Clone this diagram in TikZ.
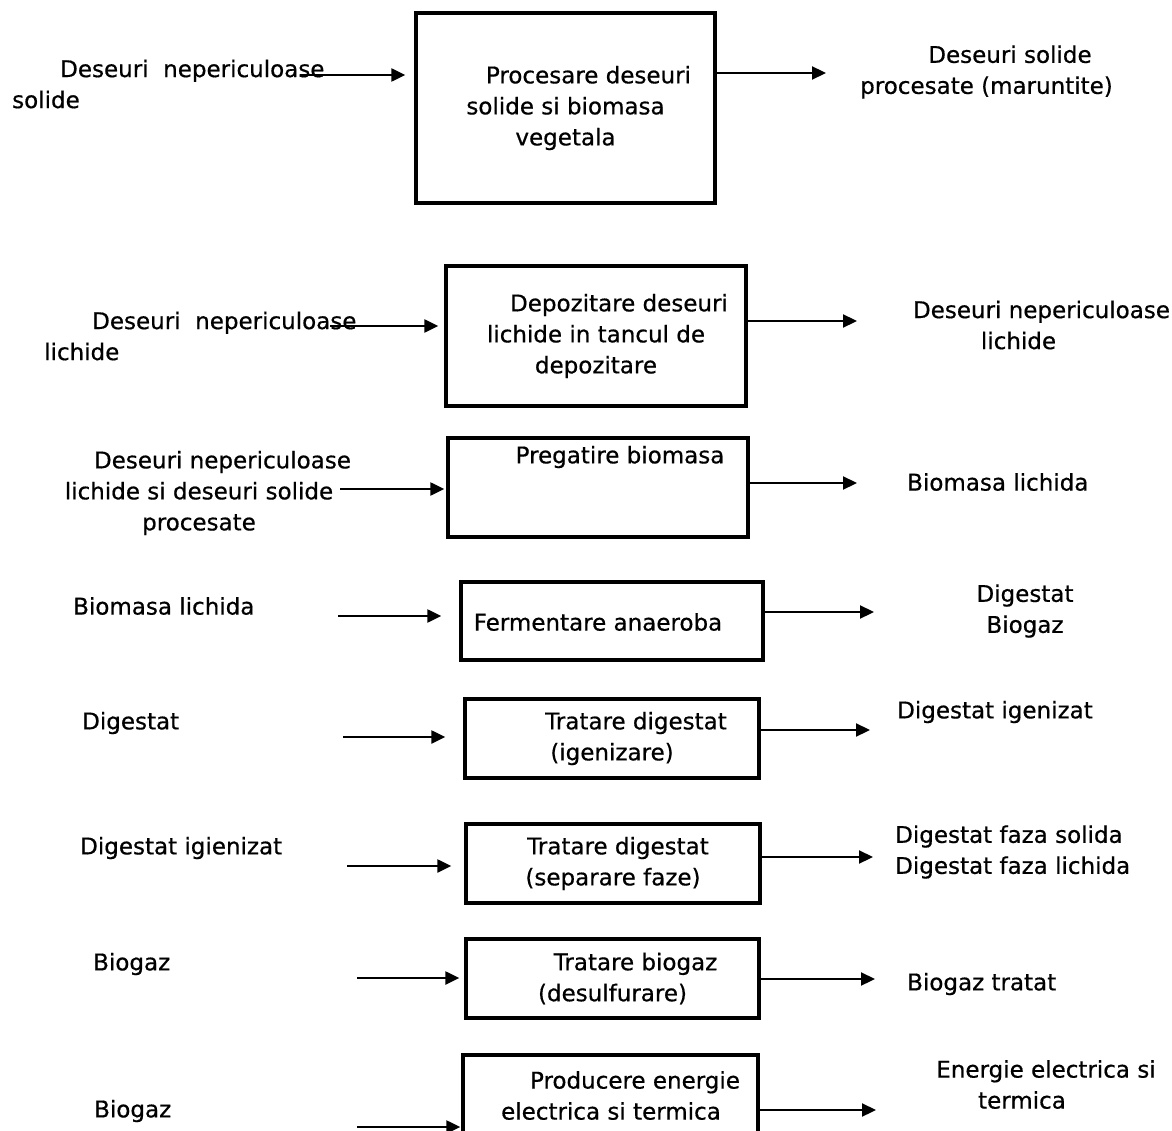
\documentclass[tikz,border=0pt]{standalone}
\usepackage{fontspec}
\setmainfont{DejaVu Sans}[FakeBold=0.6]
\usetikzlibrary{arrows.meta}
\tikzset{
  box/.style={draw, line width=3.3pt, inner sep=0pt},
  lbl/.style={inner sep=0pt, font=\fontsize{23}{31}\selectfont},
  arr/.style={line width=2.2pt, -{Triangle[length=14pt,width=13pt]}},
}
\begin{document}
\begin{tikzpicture}[x=1pt,y=-1pt]
\useasboundingbox (0,0) rectangle (1172,1131);
\clip (0,0) rectangle (1172,1131);
% boxes
\node[box, lbl, minimum width=299pt, minimum height=190pt, align=center] (b1) at (565.5,108) {\hspace*{46pt}Procesare deseuri\\solide si biomasa\\vegetala};
\node[box, lbl, minimum width=300pt, minimum height=140pt, align=center] (b2) at (596,336) {\hspace*{46pt}Depozitare deseuri\\lichide in tancul de\\depozitare};
\node[box, minimum width=300pt, minimum height=99pt] (b3) at (598,487.5) {};
\node[lbl] (t3) at (620,457) {Pregatire biomasa};
\node[box, minimum width=302pt, minimum height=78pt] (b4) at (612,621) {};
\node[lbl] (t4) at (598,622) {Fermentare anaeroba};
\node[box, lbl, minimum width=294pt, minimum height=79pt, align=center] (b5) at (612,738.5) {\hspace*{48pt}Tratare digestat\\(igenizare)};
\node[box, lbl, minimum width=294pt, minimum height=79pt, align=center] (b6) at (613,863.5) {\hspace*{10pt}Tratare digestat\\(separare faze)};
\node[box, lbl, minimum width=293pt, minimum height=79pt, align=center] (b7) at (612.5,978.5) {\hspace*{46pt}Tratare biogaz\\(desulfurare)};
\node[box, minimum width=295pt, minimum height=82pt] (b8) at (610.5,1096) {};
\node[lbl, align=center] (t8) at (611,1095.5) {\hspace*{48pt}Producere energie\\electrica si termica};
% input labels
\node[lbl, anchor=west, align=left] (i1) at (12,84) {\hspace*{48pt}Deseuri\ \ nepericuloase\\solide};
\node[lbl, anchor=west, align=left] (i2) at (44,336) {\hspace*{48pt}Deseuri\ \ nepericuloase\\lichide};
\node[lbl, align=center] (i3) at (199,493) {\hspace*{47pt}Deseuri nepericuloase\\lichide si deseuri solide\\procesate};
\node[lbl, anchor=west] (i4) at (73,606) {Biomasa lichida};
\node[lbl, anchor=west] (i5) at (82,723) {Digestat};
\node[lbl, anchor=west] (i6) at (80,848) {Digestat igienizat};
\node[lbl, anchor=west] (i7) at (93,964) {Biogaz};
\node[lbl, anchor=west] (i8) at (94,1111) {Biogaz};
% output labels
\node[lbl, align=center] (o1) at (986.5,72) {\hspace*{47pt}Deseuri solide\\procesate (maruntite)};
\node[lbl, align=center] (o2) at (1018.5,325) {\hspace*{46pt}Deseuri nepericuloase\\lichide};
\node[lbl, anchor=west] (o3) at (907,482) {Biomasa lichida};
\node[lbl, align=center] (o4) at (1025,611) {Digestat\\Biogaz};
\node[lbl, anchor=west] (o5) at (897,712) {Digestat igenizat};
\node[lbl, anchor=west, align=left] (o6) at (895,852) {Digestat faza solida\\Digestat faza lichida};
\node[lbl, anchor=west] (o7) at (907,984) {Biogaz tratat};
\node[lbl, align=center] (o8) at (1022,1084.5) {\hspace*{48pt}Energie electrica si\\termica};
% arrow coordinates
\coordinate (a1) at (300,75);   \coordinate (e1) at (826,73);
\coordinate (a2) at (330,326);  \coordinate (e2) at (857,321);
\coordinate (a3) at (340,489);  \coordinate (e3) at (857,483);
\coordinate (a4) at (338,616);  \coordinate (e4) at (874,612);
\coordinate (a5) at (343,737);  \coordinate (e5) at (870,730);
\coordinate (a6) at (347,866);  \coordinate (e6) at (873,857);
\coordinate (a7) at (357,978);  \coordinate (e7) at (875,979);
\coordinate (a8) at (357,1127); \coordinate (e8) at (876,1110);
% input arrows
\draw[arr, shorten >=9pt] (a1) -- (a1 -| b1.west);
\draw[arr, shorten >=6pt] (a2) -- (a2 -| b2.west);
\draw[arr, shorten >=2pt] (a3) -- (a3 -| b3.west);
\draw[arr, shorten >=18pt] (a4) -- (a4 -| b4.west);
\draw[arr, shorten >=18pt] (a5) -- (a5 -| b5.west);
\draw[arr, shorten >=13pt] (a6) -- (a6 -| b6.west);
\draw[arr, shorten >=5pt] (a7) -- (a7 -| b7.west);
\draw[arr, shorten >=1pt] (a8) -- (a8 -| b8.west);
% output arrows
\draw[arr] (b1.east |- e1) -- (e1);
\draw[arr] (b2.east |- e2) -- (e2);
\draw[arr] (b3.east |- e3) -- (e3);
\draw[arr] (b4.east |- e4) -- (e4);
\draw[arr] (b5.east |- e5) -- (e5);
\draw[arr] (b6.east |- e6) -- (e6);
\draw[arr] (b7.east |- e7) -- (e7);
\draw[arr] (b8.east |- e8) -- (e8);
\end{tikzpicture}
\end{document}
